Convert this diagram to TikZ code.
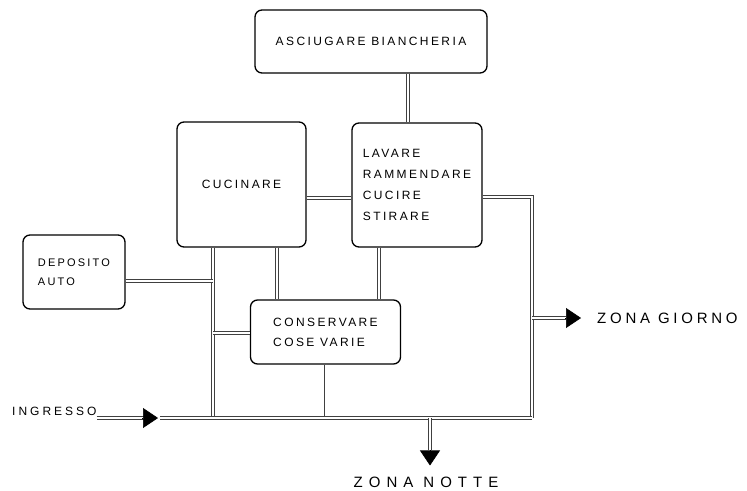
\documentclass[tikz,border=0pt]{standalone}
\usepackage{fontspec}
\setmainfont{Liberation Sans}[LetterSpace=20]
\usetikzlibrary{arrows.meta}

\tikzset{
    room/.style={draw, line width=1.3pt, rounded corners=7pt, inner sep=0pt,
        font=\fontsize{12}{20}\selectfont},
    conn/.style={draw=black!75, line width=0.6pt, double=white, double distance=2pt},
    flowtip/.style={-{Triangle[length=15pt,width=20pt]}, line width=0.6pt},
    tag/.style={inner sep=0pt, font=\fontsize{15}{17}\selectfont\addfontfeatures{LetterSpace=25}},
}

\begin{document}
\begin{tikzpicture}[x=1pt, y=-1pt]
        \useasboundingbox (0,0) rectangle (747,490);

        % rooms
        \node[room, minimum width=232pt, minimum height=63pt] (asciugare) at (371,41.5) {ASCIUGARE BIANCHERIA};
        \node[room, minimum width=129pt, minimum height=125pt] (cucinare) at (241.5,184.5) {CUCINARE};
        \node[room, minimum width=130pt, minimum height=124pt, align=left,
            font=\fontsize{12}{21}\selectfont] (lavare) at (417,185) {LAVARE\\RAMMENDARE\\CUCIRE\\STIRARE};
        \node[room, minimum width=102pt, minimum height=74pt, align=left,
            font=\fontsize{11}{19}\selectfont] (deposito) at (74,272) {DEPOSITO\\AUTO};
        \node[room, minimum width=150pt, minimum height=64pt, align=left] (conservare) at (325.5,332) {CONSERVARE\\COSE VARIE};

        % junctions
        \coordinate (west) at (213,418);
        \coordinate (east) at (532,418);
        \coordinate (north) at (532,197);
        \coordinate (entry) at (160,418);
        \coordinate (jdry) at (408,0);
        \coordinate (jcook) at (0,198);
        \coordinate (jstore) at (277,0);
        \coordinate (jwash) at (379,0);
        \coordinate (jcar) at (213,281);
        \coordinate (jside) at (213,333);
        \coordinate (jday) at (532,318);
        \coordinate (jnight) at (430,418);

        % exits
        \node[tag, anchor=west, font=\fontsize{12}{14}\selectfont\addfontfeatures{LetterSpace=25}] (ingresso) at (12,411) {INGRESSO};
        \node[tag, anchor=west] (giorno) at (597,318) {ZONA GIORNO};
        \node[tag, font=\fontsize{15}{17}\selectfont\addfontfeatures{LetterSpace=40}] (notte) at (426,482) {ZONA NOTTE};

        % draw diagram
        \draw[conn] (asciugare.south -| jdry) -- (lavare.north -| jdry);
        \draw[conn] (cucinare.east |- jcook) -- (lavare.west |- jcook);
        \draw[conn] (lavare.east |- north) -- (north) -- (east);
        \draw[conn] (cucinare.south -| west) -- (west);
        \draw[conn] (cucinare.south -| jstore) -- (conservare.north -| jstore);
        \draw[conn] (lavare.south -| jwash) -- (conservare.north -| jwash);
        \draw[conn] (deposito.east |- jcar) -- (jcar);
        \draw[conn] (jside) -- (conservare.west |- jside);
        \draw[conn] (conservare.south) -- (conservare.south |- west);
        \draw[conn] (entry) -- (east);

        % arrows
        \draw[conn, shorten >=16pt] (ingresso.east |- entry) -- (entry);
        \draw[flowtip] ([xshift=-18pt]entry) -- ([xshift=-2pt]entry);
        \draw[conn, shorten >=31pt] (jday) -- (giorno.west);
        \draw[flowtip] ([xshift=-32pt]giorno.west) -- ([xshift=-16pt]giorno.west);
        \draw[conn, shorten >=26pt] (jnight) -- (notte.north -| jnight);
        \draw[flowtip, shorten <=32pt, shorten >=11pt] (jnight) -- (notte.north -| jnight);
\end{tikzpicture}
\end{document}
